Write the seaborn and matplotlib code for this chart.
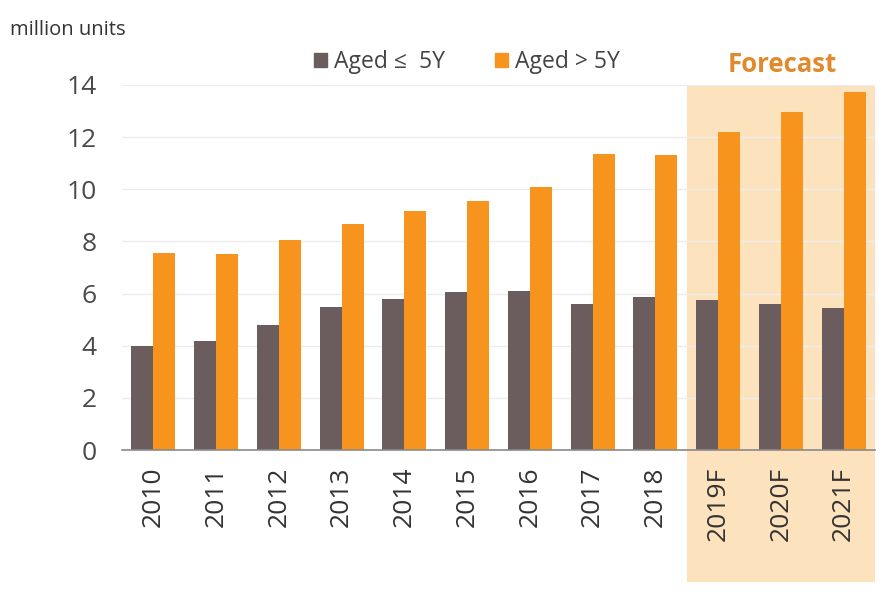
import matplotlib
matplotlib.use("Agg")
import matplotlib.pyplot as plt
import matplotlib.patches as mpatches
import numpy as np
import pandas as pd
import seaborn as sns

years = ["2010", "2011", "2012", "2013", "2014", "2015", "2016", "2017", "2018",
         "2019F", "2020F", "2021F"]
aged_le_5y = [4.0, 4.2, 4.8, 5.5, 5.8, 6.05, 6.1, 5.6, 5.85, 5.75, 5.6, 5.45]
aged_gt_5y = [7.55, 7.5, 8.05, 8.65, 9.15, 9.55, 10.1, 11.35, 11.3, 12.2, 12.95, 13.75]
series_names = ["Aged \u2264  5Y", "Aged > 5Y"]
forecast_years = ["2019F", "2020F", "2021F"]

dark = "#6b5d5d"
orange = "#f7941d"
shade = "#fde3bd"
forecast_color = "#e08a2c"

df = pd.DataFrame({
    "year": years * 2,
    "value": aged_le_5y + aged_gt_5y,
    "series": [series_names[0]] * len(years) + [series_names[1]] * len(years),
})

sns.set_theme(style="white")
plt.rcParams["font.family"] = ["Open Sans", "DejaVu Sans"]

W, H = 893, 594
fig = plt.figure(figsize=(W / 100, H / 100), dpi=100)
ax = fig.add_axes([122 / W, 1 - 450 / H, (875 - 122) / W, (450 - 85) / H])

# forecast band behind the bars, extending below the axis labels
first = years.index(forecast_years[0])
band = mpatches.Rectangle((first - 0.5, -5.05), len(forecast_years), 14 + 5.05,
                          transform=ax.transData, facecolor=shade, edgecolor="none",
                          clip_on=False, zorder=0)
ax.add_patch(band)

sns.barplot(data=df, x="year", y="value", hue="series", order=years,
            hue_order=series_names, palette=[dark, orange], width=0.7, gap=0,
            saturation=1, linewidth=0, ax=ax, legend=False, zorder=2)

ax.set_ylim(0, 14)
ax.set_xlim(-0.5, len(years) - 0.5)
ax.set_yticks(range(0, 15, 2))
ax.yaxis.grid(True, color="#ececec", linewidth=1)
ax.set_axisbelow(True)
ax.patch.set_alpha(0)
for s in ["top", "right", "left"]:
    ax.spines[s].set_visible(False)
ax.spines["bottom"].set_color("#8a8a8a")
ax.spines["bottom"].set_linewidth(1.2)

ax.set_xlabel("")
ax.set_ylabel("")
ax.tick_params(axis="y", length=0, labelsize=19, colors="#4a4a4a", pad=18)
ax.tick_params(axis="x", which="major", length=0, labelsize=19, colors="#333333",
               pad=12, labelrotation=90)
ax.set_xticks(np.arange(-0.5, len(years), 1.0), minor=True)
ax.tick_params(axis="x", which="minor", length=6, color="#8a8a8a", width=1,
               direction="out")

# legend and annotations
handles = [mpatches.Patch(color=dark), mpatches.Patch(color=orange)]
fig.legend(handles, series_names, loc="center", bbox_to_anchor=(467 / W, 1 - 62 / H),
           ncol=2, frameon=False, fontsize=16.5, handlelength=0.55, handleheight=0.55,
           handletextpad=0.3, columnspacing=2.2, labelcolor="#444444")
fig.text(10 / W, 1 - 30 / H, "million units", fontsize=14.5, color="#333333",
         va="center", ha="left")
fig.text(782 / W, 1 - 64 / H, "Forecast", fontsize=18.5, fontweight="bold",
         color=forecast_color, va="center", ha="center")

fig.savefig("out.png", dpi=100)
